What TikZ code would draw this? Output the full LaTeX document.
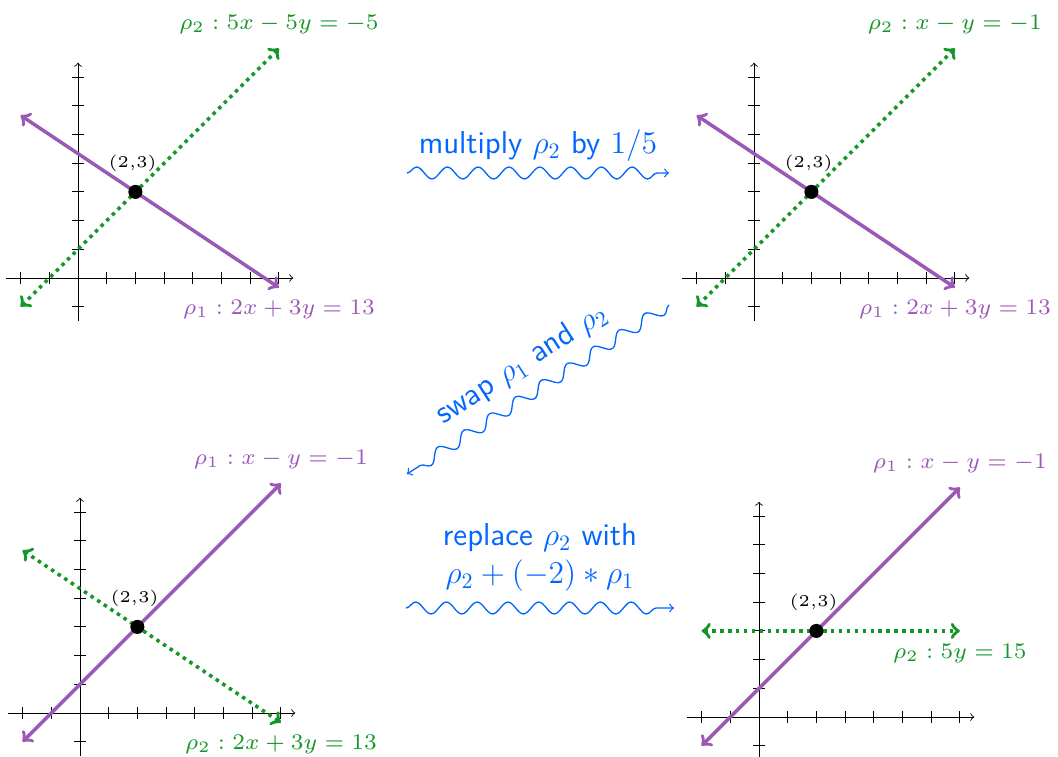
\documentclass[tikz,border=0pt]{standalone}
\usetikzlibrary{arrows, decorations.pathmorphing}
\definecolor{rowpurple}{RGB}{155,89,182}
\definecolor{rowgreen}{RGB}{20,150,40}
\definecolor{stepblue}{RGB}{0,102,255}

\begin{document}
\begin{tikzpicture}[x=13.05pt, y=13.05pt,
    rowone/.style={<->, ultra thick, rowpurple},
    rowtwo/.style={<->, ultra thick, dotted, rowgreen},
    ptdot/.style={circle, fill=black, inner sep=0pt, minimum size=6.4pt},
    ptlbl/.style={font=\tiny, scale=1.5},
    eqlbl/.style={font=\scriptsize, scale=1.45},
    steplbl/.style={font=\sffamily\fontsize{14.4}{17.3}\selectfont, text=stepblue, align=center},
    wavy/.style={->, semithick, stepblue, decorate, decoration={snake, amplitude=2.7pt, segment length=14pt, post length=4pt}},
    pics/axes/.style={code={
        \draw[->] (-2.5,0) -- (7.5,0);
        \draw[->] (0,-1.5) -- (0,7.5);
        \foreach \k in {-2,...,7} \draw (\k,-0.2) -- (\k,0.2);
        \foreach \k in {-1,...,7} \draw (-0.2,\k) -- (0.2,\k);
    }}]
    \useasboundingbox (0,0) rectangle (36.864,-26.376);

    % starting system
    \begin{scope}[shift={(2.718,-9.686)}]
        \pic {axes};
        \draw[rowtwo] (-2,-1) -- (7,8);
        \draw[rowone] (-2,17/3) -- (7,-1/3);
        \node[ptdot] (p1pt) at (2,3) {};
        \node[ptlbl] (p1xy) at (1.9,4) {$(2{,}3)$};
        \node[eqlbl, text=rowgreen] (p1eqb) at (7,8.85) {$\rho_2: 5x-5y=-5$};
        \node[eqlbl, text=rowpurple] (p1eqa) at (7,-1.1) {$\rho_1: 2x+3y=13$};
    \end{scope}

    % after scaling rho2
    \begin{scope}[shift={(26.272,-9.686)}]
        \pic {axes};
        \draw[rowtwo] (-2,-1) -- (7,8);
        \draw[rowone] (-2,17/3) -- (7,-1/3);
        \node[ptdot] (p2pt) at (2,3) {};
        \node[ptlbl] (p2xy) at (1.9,4) {$(2{,}3)$};
        \node[eqlbl, text=rowgreen] (p2eqb) at (7,8.85) {$\rho_2: x-y=-1$};
        \node[eqlbl, text=rowpurple] (p2eqa) at (7,-1.1) {$\rho_1: 2x+3y=13$};
    \end{scope}

    % after the swap
    \begin{scope}[shift={(2.787,-24.843)}]
        \pic {axes};
        \draw[rowtwo] (-2,17/3) -- (7,-1/3);
        \draw[rowone] (-2,-1) -- (7,8);
        \node[ptdot] (p3pt) at (2,3) {};
        \node[ptlbl] (p3xy) at (1.9,4) {$(2{,}3)$};
        \node[eqlbl, text=rowpurple] (p3eqa) at (7,8.85) {$\rho_1: x-y=-1$};
        \node[eqlbl, text=rowgreen] (p3eqb) at (7,-1.1) {$\rho_2: 2x+3y=13$};
    \end{scope}

    % after elimination
    \begin{scope}[shift={(26.446,-24.983)}]
        \pic {axes};
        \draw[rowtwo] (-2,3) -- (7,3);
        \draw[rowone] (-2,-1) -- (7,8);
        \node[ptdot] (p4pt) at (2,3) {};
        \node[ptlbl] (p4xy) at (1.9,4) {$(2{,}3)$};
        \node[eqlbl, text=rowpurple] (p4eqa) at (7,8.85) {$\rho_1: x-y=-1$};
        \node[eqlbl, text=rowgreen] (p4eqb) at (7,2.23) {$\rho_2: 5y=15$};
    \end{scope}

    % row operations
    \coordinate (m1s) at (14.18,-6.028);
    \coordinate (m1e) at (23.31,-6.028);
    \coordinate (s2s) at (23.31,-10.627);
    \coordinate (s2e) at (14.18,-16.516);
    \coordinate (r3s) at (14.146,-21.185);
    \coordinate (r3e) at (23.484,-21.185);

    \draw[wavy] (m1s) -- node[steplbl, midway, above=1.5pt] (op1) {multiply $\rho_2$ by $1/5$} (m1e);
    \draw[wavy] (s2s) -- node[steplbl, midway, sloped, above=3.5pt] (op2) {swap $\rho_1$ and $\rho_2$} (s2e);
    \draw[wavy] (r3s) -- node[steplbl, midway, above=4pt] (op3) {replace $\rho_2$ with\\$\rho_2+(-2)*\rho_1$} (r3e);
\end{tikzpicture}
\end{document}
